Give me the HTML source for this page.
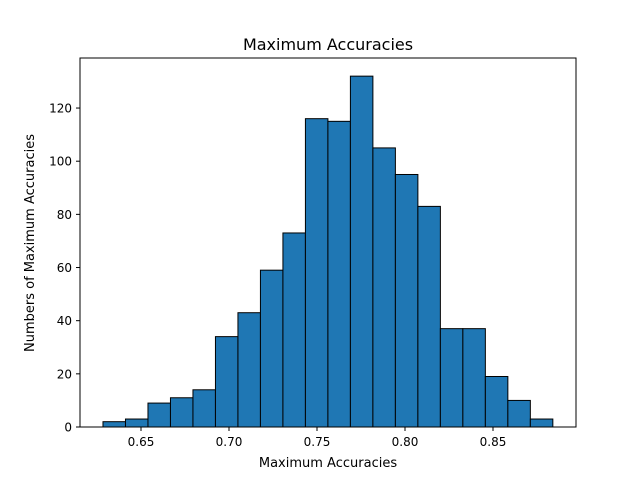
<!DOCTYPE html>
<html><head><meta charset="utf-8"><style>
body{margin:0;background:#fff}
text{font-family:"DejaVu Sans","Liberation Sans",sans-serif;fill:#000}
</style></head><body>
<svg id="chart" width="640" height="480">
<rect width="640" height="480" fill="#fff"/>
<text x="328" y="50" font-size="16" text-anchor="middle">Maximum Accuracies</text>
<g id="bars"></g>
<rect x="80" y="58" width="496" height="369" fill="none" stroke="#000" stroke-width="1"/>
<g id="xt"></g><g id="yt"></g>
<text x="328" y="467" font-size="13" text-anchor="middle">Maximum Accuracies</text>
<text transform="translate(34,243) rotate(-90)" font-size="13" text-anchor="middle">Numbers of Maximum Accuracies</text>
</svg>
<script>
const counts=[2,3,9,11,14,34,43,59,73,116,115,132,105,95,83,37,37,19,10,3];
const binStart=0.6284, binEnd=0.884;
const xTicks=[0.65,0.70,0.75,0.80,0.85];
const xTickLabels=["0.65","0.70","0.75","0.80","0.85"];
const yTicks=[0,20,40,60,80,100,120];
const ns="http://www.w3.org/2000/svg";
const X=v=>141+(v-0.65)*1760;
const Y=v=>427-v*2.658;
const bw=(binEnd-binStart)/counts.length;
const bars=document.getElementById('bars');
counts.forEach((c,i)=>{
 const r=document.createElementNS(ns,'rect');
 const x0=X(binStart+i*bw),x1=X(binStart+(i+1)*bw);
 r.setAttribute('x',x0);r.setAttribute('y',Y(c));
 r.setAttribute('width',x1-x0);r.setAttribute('height',Y(0)-Y(c));
 r.setAttribute('fill','#1f77b4');r.setAttribute('stroke','#000');r.setAttribute('stroke-width','1');
 
 
 bars.appendChild(r);
});
const xt=document.getElementById('xt');
xTicks.forEach((v,i)=>{
 const l=document.createElementNS(ns,'line');
 l.setAttribute('x1',X(v));l.setAttribute('x2',X(v));l.setAttribute('y1',427);l.setAttribute('y2',431);l.setAttribute('stroke','#000');
 
 
 xt.appendChild(l);
 const t=document.createElementNS(ns,'text');
 t.setAttribute('x',X(v));t.setAttribute('y',446);t.setAttribute('font-size','12');t.setAttribute('text-anchor','middle');
 t.textContent=xTickLabels[i];
 
 
 xt.appendChild(t);
});
const yt=document.getElementById('yt');
yTicks.forEach(v=>{
 const l=document.createElementNS(ns,'line');
 l.setAttribute('x1',76);l.setAttribute('x2',80);l.setAttribute('y1',Y(v));l.setAttribute('y2',Y(v));l.setAttribute('stroke','#000');
 
 
 yt.appendChild(l);
 const t=document.createElementNS(ns,'text');
 t.setAttribute('x',72);t.setAttribute('y',Y(v)+4.5);t.setAttribute('font-size','12');t.setAttribute('text-anchor','end');
 t.textContent=v;
 
 
 yt.appendChild(t);
});
</script>
</body></html>
